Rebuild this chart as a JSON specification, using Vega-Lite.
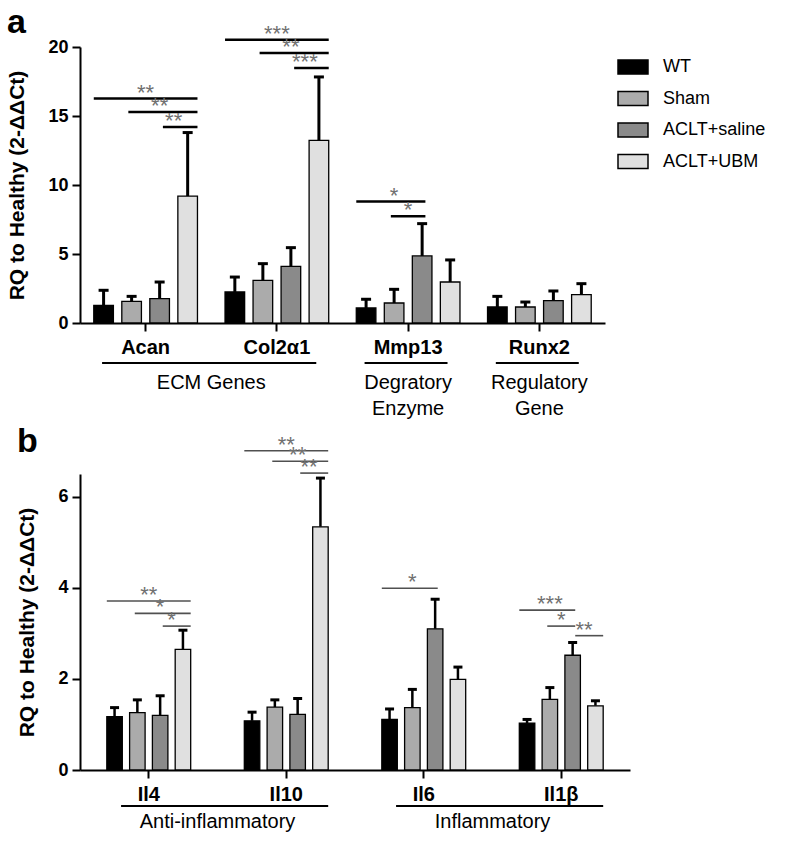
{
  "$schema": "https://vega.github.io/schema/vega-lite/v6.json",
  "padding": {"left": 6, "top": 5, "right": 5, "bottom": 2},
  "background": "white",
  "config": {
    "font": "Liberation Sans",
    "view": {"stroke": null},
    "axis": {"grid": false, "domainColor": "black", "domainWidth": 2, "tickColor": "black", "tickWidth": 2, "tickSize": 8, "labelColor": "black", "labelFontWeight": "bold", "labelFontSize": 18, "labelPadding": 4, "titleFontSize": 21, "titleFontWeight": "bold", "titleColor": "black", "titlePadding": 20},
    "legend": {"labelFontSize": 18, "labelColor": "black", "symbolType": "M-1,-0.47H1V0.47H-1Z", "symbolSize": 900, "symbolStrokeColor": "black", "symbolStrokeWidth": 1.5, "rowPadding": 4.5, "labelOffset": 14, "symbolOpacity": 1, "padding": 4},
    "title": {"fontSize": 34, "fontWeight": "bold", "color": "black", "anchor": "start", "frame": "bounds"}
  },
  "datasets": {
    "groups": [
      {"group": "WT", "idx": 0}, {"group": "Sham", "idx": 1}, {"group": "ACLT+saline", "idx": 2}, {"group": "ACLT+UBM", "idx": 3}
    ],
    "a_bars": [
      {"gene": "Acan", "group": "WT", "mean": 1.28, "upper": 2.37},
      {"gene": "Acan", "group": "Sham", "mean": 1.57, "upper": 1.93},
      {"gene": "Acan", "group": "ACLT+saline", "mean": 1.77, "upper": 2.97},
      {"gene": "Acan", "group": "ACLT+UBM", "mean": 9.2, "upper": 13.8},
      {"gene": "Col2α1", "group": "WT", "mean": 2.25, "upper": 3.33},
      {"gene": "Col2α1", "group": "Sham", "mean": 3.09, "upper": 4.3},
      {"gene": "Col2α1", "group": "ACLT+saline", "mean": 4.1, "upper": 5.46},
      {"gene": "Col2α1", "group": "ACLT+UBM", "mean": 13.24, "upper": 17.83},
      {"gene": "Mmp13", "group": "WT", "mean": 1.09, "upper": 1.72},
      {"gene": "Mmp13", "group": "Sham", "mean": 1.45, "upper": 2.44},
      {"gene": "Mmp13", "group": "ACLT+saline", "mean": 4.86, "upper": 7.2},
      {"gene": "Mmp13", "group": "ACLT+UBM", "mean": 2.97, "upper": 4.57},
      {"gene": "Runx2", "group": "WT", "mean": 1.16, "upper": 1.93},
      {"gene": "Runx2", "group": "Sham", "mean": 1.16, "upper": 1.52},
      {"gene": "Runx2", "group": "ACLT+saline", "mean": 1.62, "upper": 2.32},
      {"gene": "Runx2", "group": "ACLT+UBM", "mean": 2.06, "upper": 2.85}
    ],
    "b_bars": [
      {"gene": "Il4", "group": "WT", "mean": 1.17, "upper": 1.37},
      {"gene": "Il4", "group": "Sham", "mean": 1.26, "upper": 1.54},
      {"gene": "Il4", "group": "ACLT+saline", "mean": 1.2, "upper": 1.63},
      {"gene": "Il4", "group": "ACLT+UBM", "mean": 2.65, "upper": 3.07},
      {"gene": "Il10", "group": "WT", "mean": 1.08, "upper": 1.27},
      {"gene": "Il10", "group": "Sham", "mean": 1.38, "upper": 1.54},
      {"gene": "Il10", "group": "ACLT+saline", "mean": 1.22, "upper": 1.57},
      {"gene": "Il10", "group": "ACLT+UBM", "mean": 5.34, "upper": 6.41},
      {"gene": "Il6", "group": "WT", "mean": 1.11, "upper": 1.34},
      {"gene": "Il6", "group": "Sham", "mean": 1.37, "upper": 1.77},
      {"gene": "Il6", "group": "ACLT+saline", "mean": 3.1, "upper": 3.75},
      {"gene": "Il6", "group": "ACLT+UBM", "mean": 1.99, "upper": 2.26},
      {"gene": "Il1β", "group": "WT", "mean": 1.03, "upper": 1.11},
      {"gene": "Il1β", "group": "Sham", "mean": 1.55, "upper": 1.81},
      {"gene": "Il1β", "group": "ACLT+saline", "mean": 2.52, "upper": 2.8},
      {"gene": "Il1β", "group": "ACLT+UBM", "mean": 1.41, "upper": 1.52}
    ],
    "a_sig": [
      {"gene": "Acan", "comp": "Acan-1", "group": "WT", "y": 16.26, "stars": "**"},
      {"gene": "Acan", "comp": "Acan-1", "group": "ACLT+UBM", "y": 16.26, "stars": "**"},
      {"gene": "Acan", "comp": "Acan-2", "group": "Sham", "y": 15.29, "stars": "**"},
      {"gene": "Acan", "comp": "Acan-2", "group": "ACLT+UBM", "y": 15.29, "stars": "**"},
      {"gene": "Acan", "comp": "Acan-3", "group": "ACLT+saline", "y": 14.2, "stars": "**"},
      {"gene": "Acan", "comp": "Acan-3", "group": "ACLT+UBM", "y": 14.2, "stars": "**"},
      {"gene": "Col2α1", "comp": "Col-1", "group": "WT", "y": 20.53, "stars": "***"},
      {"gene": "Col2α1", "comp": "Col-1", "group": "ACLT+UBM", "y": 20.53, "stars": "***"},
      {"gene": "Col2α1", "comp": "Col-2", "group": "Sham", "y": 19.57, "stars": "**"},
      {"gene": "Col2α1", "comp": "Col-2", "group": "ACLT+UBM", "y": 19.57, "stars": "**"},
      {"gene": "Col2α1", "comp": "Col-3", "group": "ACLT+saline", "y": 18.48, "stars": "***"},
      {"gene": "Col2α1", "comp": "Col-3", "group": "ACLT+UBM", "y": 18.48, "stars": "***"},
      {"gene": "Mmp13", "comp": "Mmp-1", "group": "WT", "y": 8.8, "stars": "*"},
      {"gene": "Mmp13", "comp": "Mmp-1", "group": "ACLT+saline", "y": 8.8, "stars": "*"},
      {"gene": "Mmp13", "comp": "Mmp-2", "group": "Sham", "y": 7.73, "stars": "*"},
      {"gene": "Mmp13", "comp": "Mmp-2", "group": "ACLT+saline", "y": 7.73, "stars": "*"}
    ],
    "b_sig": [
      {"gene": "Il4", "comp": "Il4-1", "group": "WT", "y": 3.71, "stars": "**"},
      {"gene": "Il4", "comp": "Il4-1", "group": "ACLT+UBM", "y": 3.71, "stars": "**"},
      {"gene": "Il4", "comp": "Il4-2", "group": "Sham", "y": 3.44, "stars": "*"},
      {"gene": "Il4", "comp": "Il4-2", "group": "ACLT+UBM", "y": 3.44, "stars": "*"},
      {"gene": "Il4", "comp": "Il4-3", "group": "ACLT+saline", "y": 3.16, "stars": "*"},
      {"gene": "Il4", "comp": "Il4-3", "group": "ACLT+UBM", "y": 3.16, "stars": "*"},
      {"gene": "Il10", "comp": "Il10-1", "group": "WT", "y": 7.01, "stars": "**"},
      {"gene": "Il10", "comp": "Il10-1", "group": "ACLT+UBM", "y": 7.01, "stars": "**"},
      {"gene": "Il10", "comp": "Il10-2", "group": "Sham", "y": 6.78, "stars": "**"},
      {"gene": "Il10", "comp": "Il10-2", "group": "ACLT+UBM", "y": 6.78, "stars": "**"},
      {"gene": "Il10", "comp": "Il10-3", "group": "ACLT+saline", "y": 6.52, "stars": "**"},
      {"gene": "Il10", "comp": "Il10-3", "group": "ACLT+UBM", "y": 6.52, "stars": "**"},
      {"gene": "Il6", "comp": "Il6-1", "group": "WT", "y": 3.99, "stars": "*"},
      {"gene": "Il6", "comp": "Il6-1", "group": "ACLT+saline", "y": 3.99, "stars": "*"},
      {"gene": "Il1β", "comp": "Il1b-1", "group": "WT", "y": 3.51, "stars": "***"},
      {"gene": "Il1β", "comp": "Il1b-1", "group": "ACLT+saline", "y": 3.51, "stars": "***"},
      {"gene": "Il1β", "comp": "Il1b-2", "group": "Sham", "y": 3.16, "stars": "*"},
      {"gene": "Il1β", "comp": "Il1b-2", "group": "ACLT+saline", "y": 3.16, "stars": "*"},
      {"gene": "Il1β", "comp": "Il1b-3", "group": "ACLT+saline", "y": 2.95, "stars": "**"},
      {"gene": "Il1β", "comp": "Il1b-3", "group": "ACLT+UBM", "y": 2.95, "stars": "**"}
    ],
    "a_cats": [
      {"category": "ECM Genes", "start": "Acan", "end": "Col2α1"},
      {"category": "Degratory\nEnzyme", "start": "Mmp13", "end": "Mmp13"},
      {"category": "Regulatory\nGene", "start": "Runx2", "end": "Runx2"}
    ],
    "b_cats": [
      {"category": "Anti-inflammatory", "start": "Il4", "end": "Il10"},
      {"category": "Inflammatory", "start": "Il6", "end": "Il1β"}
    ]
  },
  "vconcat": [
    {
      "title": {"text": "a", "offset": -17},
      "width": 525,
      "height": 276,
      "resolve": {"scale": {"xOffset": "independent"}},
      "layer": [
        {
          "data": {"name": "a_bars"},
          "mark": {"type": "rule", "color": "black", "strokeWidth": 3},
          "encoding": {
            "x": {"field": "gene", "type": "nominal", "title": null, "scale": {"type": "band", "domain": ["Acan", "Col2α1", "Mmp13", "Runx2"], "paddingInner": 0.21, "paddingOuter": 0.105}, "axis": {"labelAngle": 0, "labelFontSize": 20, "labelPadding": 6}},
            "xOffset": {"field": "group", "type": "nominal", "scale": {"domain": ["WT", "Sham", "ACLT+saline", "ACLT+UBM"], "paddingInner": 0.3, "paddingOuter": 0}},
            "y": {"field": "mean", "type": "quantitative", "title": "RQ to Healthy (2-ΔΔCt)", "scale": {"domain": [0, 20], "nice": false}, "axis": {"values": [0, 5, 10, 15, 20]}},
            "y2": {"field": "upper"}
          }
        },
        {
          "data": {"name": "a_bars"},
          "mark": {"type": "tick", "color": "black", "thickness": 3, "size": 10, "opacity": 1},
          "encoding": {
            "x": {"field": "gene", "type": "nominal", "title": null, "scale": {"type": "band", "domain": ["Acan", "Col2α1", "Mmp13", "Runx2"], "paddingInner": 0.21, "paddingOuter": 0.105}},
            "xOffset": {"field": "group", "type": "nominal", "scale": {"domain": ["WT", "Sham", "ACLT+saline", "ACLT+UBM"], "paddingInner": 0.3, "paddingOuter": 0}},
            "y": {"field": "upper", "type": "quantitative", "title": "RQ to Healthy (2-ΔΔCt)", "scale": {"domain": [0, 20], "nice": false}}
          }
        },
        {
          "data": {"name": "a_bars"},
          "mark": {"type": "bar", "stroke": "black", "strokeWidth": 1.3},
          "encoding": {
            "x": {"field": "gene", "type": "nominal", "title": null, "scale": {"type": "band", "domain": ["Acan", "Col2α1", "Mmp13", "Runx2"], "paddingInner": 0.21, "paddingOuter": 0.105}},
            "xOffset": {"field": "group", "type": "nominal", "scale": {"domain": ["WT", "Sham", "ACLT+saline", "ACLT+UBM"], "paddingInner": 0.3, "paddingOuter": 0}},
            "y": {"field": "mean", "type": "quantitative", "title": "RQ to Healthy (2-ΔΔCt)", "scale": {"domain": [0, 20], "nice": false}},
            "color": {"field": "group", "type": "nominal", "scale": {"domain": ["WT", "Sham", "ACLT+saline", "ACLT+UBM"], "range": ["#000000", "#ababab", "#8a8a8a", "#e0e0e0"]}, "legend": {"title": null, "orient": "right", "offset": 8}}
          }
        },
        {
          "data": {"name": "a_sig"},
          "mark": {"type": "line", "color": "black", "strokeWidth": 2.5},
          "encoding": {
            "x": {"field": "gene", "type": "nominal", "title": null, "scale": {"type": "band", "domain": ["Acan", "Col2α1", "Mmp13", "Runx2"], "paddingInner": 0.21, "paddingOuter": 0.105}},
            "xOffset": {"field": "group", "type": "nominal", "scale": {"domain": ["WT", "Sham", "ACLT+saline", "ACLT+UBM"], "paddingInner": 0.3, "paddingOuter": 0}},
            "y": {"field": "y", "type": "quantitative", "title": "RQ to Healthy (2-ΔΔCt)", "scale": {"domain": [0, 20], "nice": false}},
            "detail": {"field": "comp"}
          }
        },
        {
          "data": {"name": "a_sig"},
          "transform": [
            {"lookup": "group", "from": {"data": {"name": "groups"}, "key": "group", "fields": ["idx"]}},
            {"aggregate": [{"op": "mean", "field": "idx", "as": "pos"}], "groupby": ["gene", "comp", "y", "stars"]}
          ],
          "mark": {"type": "text", "color": "#707070", "fontSize": 22, "align": "center", "baseline": "alphabetic", "dy": 1},
          "encoding": {
            "x": {"field": "gene", "type": "nominal", "title": null, "scale": {"type": "band", "domain": ["Acan", "Col2α1", "Mmp13", "Runx2"], "paddingInner": 0.21, "paddingOuter": 0.105}},
            "xOffset": {"field": "pos", "type": "quantitative", "scale": {"domain": [-0.35, 3.35], "nice": false, "zero": false}},
            "y": {"field": "y", "type": "quantitative", "title": "RQ to Healthy (2-ΔΔCt)", "scale": {"domain": [0, 20], "nice": false}},
            "text": {"field": "stars"}
          }
        },
        {
          "data": {"name": "a_cats"},
          "mark": {"type": "rule", "color": "black", "strokeWidth": 2},
          "encoding": {
            "x": {"field": "start", "type": "nominal", "title": null, "bandPosition": 0.08, "scale": {"type": "band", "domain": ["Acan", "Col2α1", "Mmp13", "Runx2"], "paddingInner": 0.21, "paddingOuter": 0.105}},
            "x2": {"field": "end", "bandPosition": 0.88},
            "y": {"datum": -2.9, "type": "quantitative", "scale": {"domain": [0, 20], "nice": false}}
          }
        },
        {
          "data": {"name": "a_cats"},
          "transform": [{"filter": "datum.start == datum.end"}],
          "mark": {"type": "text", "color": "black", "fontSize": 20, "align": "center", "baseline": "top", "lineBreak": "\n", "lineHeight": 26},
          "encoding": {
            "x": {"field": "start", "type": "nominal", "title": null, "bandPosition": 0.5, "scale": {"type": "band", "domain": ["Acan", "Col2α1", "Mmp13", "Runx2"], "paddingInner": 0.21, "paddingOuter": 0.105}},
            "y": {"datum": -3.6, "type": "quantitative", "scale": {"domain": [0, 20], "nice": false}},
            "text": {"field": "category"}
          }
        },
        {
          "data": {"name": "a_cats"},
          "transform": [{"filter": "datum.start != datum.end"}],
          "mark": {"type": "text", "color": "black", "fontSize": 20, "align": "center", "baseline": "top", "lineBreak": "\n", "lineHeight": 26},
          "encoding": {
            "x": {"field": "start", "type": "nominal", "title": null, "bandPosition": 1.133, "scale": {"type": "band", "domain": ["Acan", "Col2α1", "Mmp13", "Runx2"], "paddingInner": 0.21, "paddingOuter": 0.105}},
            "y": {"datum": -3.6, "type": "quantitative", "scale": {"domain": [0, 20], "nice": false}},
            "text": {"field": "category"}
          }
        }
      ]
    },
    {
      "title": {"text": "b", "offset": -25},
      "width": 550,
      "height": 296,
      "resolve": {"scale": {"xOffset": "independent"}},
      "layer": [
        {
          "data": {"name": "b_bars"},
          "mark": {"type": "rule", "color": "black", "strokeWidth": 2.5},
          "encoding": {
            "x": {"field": "gene", "type": "nominal", "title": null, "scale": {"type": "band", "domain": ["Il4", "Il10", "Il6", "Il1β"], "paddingInner": 0.39, "paddingOuter": 0.195}, "axis": {"labelAngle": 0, "labelFontSize": 20, "labelPadding": 6}},
            "xOffset": {"field": "group", "type": "nominal", "scale": {"domain": ["WT", "Sham", "ACLT+saline", "ACLT+UBM"], "paddingInner": 0.32, "paddingOuter": 0}},
            "y": {"field": "mean", "type": "quantitative", "title": "RQ to Healthy (2-ΔΔCt)", "scale": {"domain": [0, 6.5], "nice": false}, "axis": {"values": [0, 2, 4, 6]}},
            "y2": {"field": "upper"}
          }
        },
        {
          "data": {"name": "b_bars"},
          "mark": {"type": "tick", "color": "black", "thickness": 3, "size": 9, "opacity": 1},
          "encoding": {
            "x": {"field": "gene", "type": "nominal", "title": null, "scale": {"type": "band", "domain": ["Il4", "Il10", "Il6", "Il1β"], "paddingInner": 0.39, "paddingOuter": 0.195}},
            "xOffset": {"field": "group", "type": "nominal", "scale": {"domain": ["WT", "Sham", "ACLT+saline", "ACLT+UBM"], "paddingInner": 0.32, "paddingOuter": 0}},
            "y": {"field": "upper", "type": "quantitative", "title": "RQ to Healthy (2-ΔΔCt)", "scale": {"domain": [0, 6.5], "nice": false}}
          }
        },
        {
          "data": {"name": "b_bars"},
          "mark": {"type": "bar", "stroke": "black", "strokeWidth": 1.3},
          "encoding": {
            "x": {"field": "gene", "type": "nominal", "title": null, "scale": {"type": "band", "domain": ["Il4", "Il10", "Il6", "Il1β"], "paddingInner": 0.39, "paddingOuter": 0.195}},
            "xOffset": {"field": "group", "type": "nominal", "scale": {"domain": ["WT", "Sham", "ACLT+saline", "ACLT+UBM"], "paddingInner": 0.32, "paddingOuter": 0}},
            "y": {"field": "mean", "type": "quantitative", "title": "RQ to Healthy (2-ΔΔCt)", "scale": {"domain": [0, 6.5], "nice": false}},
            "color": {"field": "group", "type": "nominal", "scale": {"domain": ["WT", "Sham", "ACLT+saline", "ACLT+UBM"], "range": ["#000000", "#ababab", "#8a8a8a", "#e0e0e0"]}, "legend": null}
          }
        },
        {
          "data": {"name": "b_sig"},
          "mark": {"type": "line", "color": "#505050", "strokeWidth": 1.6},
          "encoding": {
            "x": {"field": "gene", "type": "nominal", "title": null, "scale": {"type": "band", "domain": ["Il4", "Il10", "Il6", "Il1β"], "paddingInner": 0.39, "paddingOuter": 0.195}},
            "xOffset": {"field": "group", "type": "nominal", "scale": {"domain": ["WT", "Sham", "ACLT+saline", "ACLT+UBM"], "paddingInner": 0.32, "paddingOuter": 0}},
            "y": {"field": "y", "type": "quantitative", "title": "RQ to Healthy (2-ΔΔCt)", "scale": {"domain": [0, 6.5], "nice": false}},
            "detail": {"field": "comp"}
          }
        },
        {
          "data": {"name": "b_sig"},
          "transform": [
            {"lookup": "group", "from": {"data": {"name": "groups"}, "key": "group", "fields": ["idx"]}},
            {"aggregate": [{"op": "mean", "field": "idx", "as": "pos"}], "groupby": ["gene", "comp", "y", "stars"]}
          ],
          "mark": {"type": "text", "color": "#707070", "fontSize": 22, "align": "center", "baseline": "alphabetic", "dy": 1},
          "encoding": {
            "x": {"field": "gene", "type": "nominal", "title": null, "scale": {"type": "band", "domain": ["Il4", "Il10", "Il6", "Il1β"], "paddingInner": 0.39, "paddingOuter": 0.195}},
            "xOffset": {"field": "pos", "type": "quantitative", "scale": {"domain": [-0.34, 3.34], "nice": false, "zero": false}},
            "y": {"field": "y", "type": "quantitative", "title": "RQ to Healthy (2-ΔΔCt)", "scale": {"domain": [0, 6.5], "nice": false}},
            "text": {"field": "stars"}
          }
        },
        {
          "data": {"name": "b_cats"},
          "mark": {"type": "rule", "color": "black", "strokeWidth": 2},
          "encoding": {
            "x": {"field": "start", "type": "nominal", "title": null, "bandPosition": 0.17, "scale": {"type": "band", "domain": ["Il4", "Il10", "Il6", "Il1β"], "paddingInner": 0.39, "paddingOuter": 0.195}},
            "x2": {"field": "end", "bandPosition": 1.0},
            "y": {"datum": -0.79, "type": "quantitative", "scale": {"domain": [0, 6.5], "nice": false}}
          }
        },
        {
          "data": {"name": "b_cats"},
          "mark": {"type": "text", "color": "black", "fontSize": 20, "align": "center", "baseline": "top"},
          "encoding": {
            "x": {"field": "start", "type": "nominal", "title": null, "bandPosition": 1.32, "scale": {"type": "band", "domain": ["Il4", "Il10", "Il6", "Il1β"], "paddingInner": 0.39, "paddingOuter": 0.195}},
            "y": {"datum": -0.92, "type": "quantitative", "scale": {"domain": [0, 6.5], "nice": false}},
            "text": {"field": "category"}
          }
        }
      ]
    }
  ],
  "spacing": 5,
  "resolve": {"legend": {"color": "independent"}}
}
